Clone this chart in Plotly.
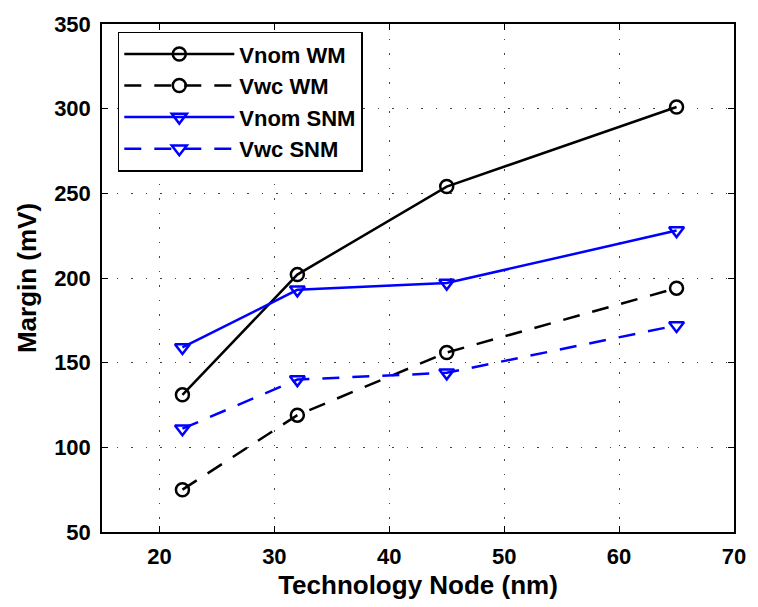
import plotly.graph_objects as go

nodes = [22, 32, 45, 65]
vnom_wm = [131, 202, 254, 301]
vwc_wm = [75, 119, 156, 194]
vnom_snm = [159, 193, 197, 228]
vwc_snm = [111, 140, 144, 172]

x_ticks = [20, 30, 40, 50, 60, 70]
y_ticks = [50, 100, 150, 200, 250, 300, 350]

FONT = "Liberation Sans, Arial, sans-serif"
DASH = "17px,13px"

series = [
    ("Vnom WM", vnom_wm, "black", "solid", "circle-open"),
    ("Vwc WM", vwc_wm, "black", DASH, "circle-open"),
    ("Vnom SNM", vnom_snm, "#0000FF", "solid", "triangle-down-open"),
    ("Vwc SNM", vwc_snm, "#0000FF", DASH, "triangle-down-open"),
]

fig = go.Figure()
for name, ys, color, dash, sym in series:
    fig.add_trace(go.Scatter(
        x=nodes, y=ys, name="<b>" + name + "</b>", mode="lines+markers",
        line=dict(color=color, width=2.5, dash=dash),
        marker=dict(symbol=sym, size=13, color=color, line=dict(color=color, width=2.5)),
    ))

axis_common = dict(
    showline=True, linecolor="black", linewidth=1.5, mirror="ticks",
    ticks="inside", ticklen=6, tickwidth=1, tickcolor="black",
    showgrid=True, gridcolor="#444444", gridwidth=1, griddash="1.5px,13px",
    zeroline=False,
    tickfont=dict(family=FONT, size=22, color="black"),
)

fig.update_xaxes(range=[15, 70], tickvals=x_ticks,
                 ticktext=["<b>%d</b>" % v for v in x_ticks], **axis_common,
                 ticklabelstandoff=4,
                 title=dict(text="<b>Technology Node (nm)</b>", standoff=8,
                            font=dict(family=FONT, size=26, color="black")))
fig.update_yaxes(range=[50, 350], tickvals=y_ticks,
                 ticktext=["<b>%d</b>" % v for v in y_ticks], **axis_common,
                 ticklabelstandoff=5,
                 title=dict(text="<b>Margin (mV)</b>", standoff=10,
                            font=dict(family=FONT, size=26, color="black")))

fig.update_layout(
    width=758, height=607,
    margin=dict(l=102, r=14, t=14, b=73),
    plot_bgcolor="white", paper_bgcolor="white",
    legend=dict(
        x=0.025, y=0.985, xanchor="left", yanchor="top",
        bgcolor="white", bordercolor="black", borderwidth=1.5,
        font=dict(family=FONT, size=22, color="black"),
        itemwidth=110, tracegroupgap=0,
    ),
)

fig.write_html("out.html")
